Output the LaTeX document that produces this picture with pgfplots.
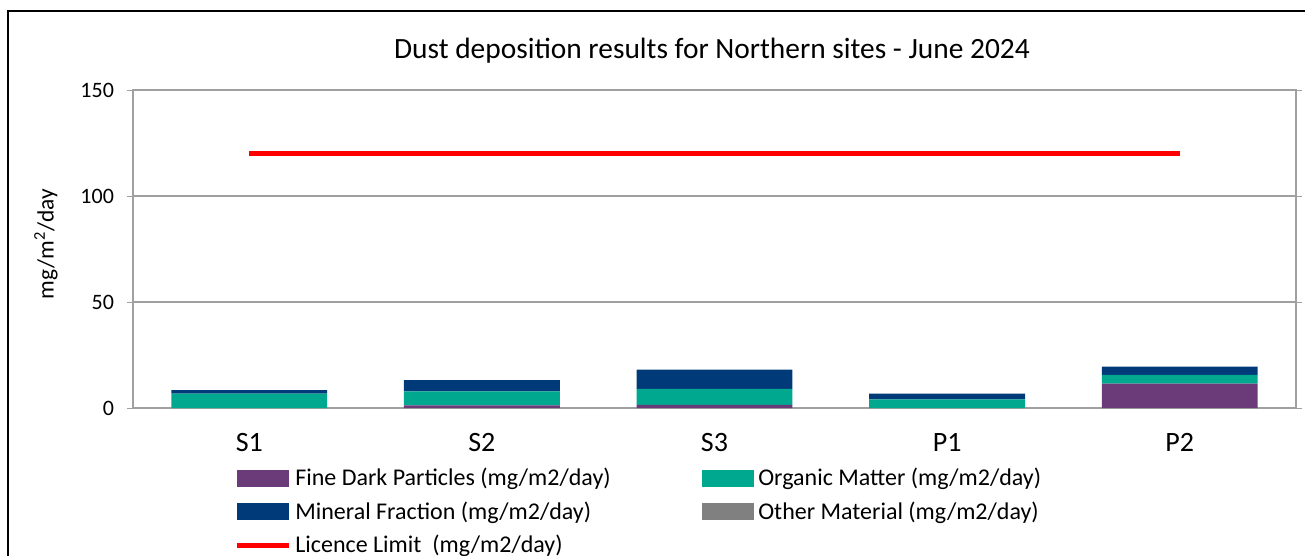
\documentclass[border=0pt]{standalone}
\usepackage{pgfplots}
\pgfplotsset{compat=1.18}
\usepackage{fontspec}
\setmainfont{Carlito}
\definecolor{finec}{HTML}{6B3A78}
\definecolor{orgc}{HTML}{00A890}
\definecolor{minc}{HTML}{003A78}
\definecolor{othc}{HTML}{808080}
\definecolor{gridc}{HTML}{A0A0A0}
\begin{document}
\begin{tikzpicture}
\path[use as bounding box] (0,0) rectangle (652.5pt,-278pt);
\draw[black, line width=0.8pt] (4pt,-280pt) -- (4pt,-5.5pt) -- (660pt,-5.5pt);
\node[font=\fontsize{14.7}{17}\selectfont] at (356pt,-25.5pt) {Dust deposition results for Northern sites - June 2024};
\node[font=\fontsize{11.7}{14}\selectfont, rotate=90] at (23pt,-122pt) {mg/m\textsuperscript{2}/day};
\begin{axis}[
  at={(66.5pt,-204pt)}, anchor=south west,
  scale only axis, width=581.5pt, height=159pt,
  ybar stacked, bar width=0.67,
  xmin=-0.5, xmax=4.5, ymin=0, ymax=150,
  xtick={0,1,2,3,4}, xticklabels={S1,S2,S3,P1,P2},
  ytick={0,50,100,150},
  ymajorgrids, grid style={gridc, line width=0.6pt},
  axis line style={gridc, line width=0.8pt},
  tick align=outside, major tick length=3pt,
  xtick style={draw=none}, ytick style={gridc},
  /pgf/number format/assume math mode=true,
  font=\fontsize{11}{13}\selectfont,
  xticklabel style={font=\fontsize{14}{16}\selectfont, yshift=-6pt},
  yticklabel style={xshift=-3pt},
  legend columns=2,
  legend cell align=left,
  legend style={draw=none, fill=none, at={(axis description cs:0.0868,-0.174)}, anchor=north west,
    inner sep=0pt, row sep=2.6pt, font=\fontsize{12}{14}\selectfont,
    /tikz/every odd column/.append style={column sep=0pt}},
  legend image code/.code={\fill[#1] (0pt,-4.25pt) rectangle (26pt,4.25pt);},
]
\addplot[fill=finec, draw=none] coordinates {(0,0) (1,1.2) (2,1.5) (3,0) (4,11.5)};
\addlegendentry{\makebox[201.5pt][l]{Fine Dark Particles (mg/m2/day)}}
\addplot[fill=orgc, draw=none] coordinates {(0,6.8) (1,6.6) (2,7.5) (3,4.1) (4,4.1)};
\addlegendentry{Organic Matter (mg/m2/day)}
\addplot[fill=minc, draw=none] coordinates {(0,1.6) (1,5.3) (2,9.1) (3,2.7) (4,3.9)};
\addlegendentry{\makebox[201.5pt][l]{Mineral Fraction (mg/m2/day)}}
\addplot[fill=othc, draw=none] coordinates {(0,0) (1,0) (2,0) (3,0) (4,0)};
\addlegendentry{Other Material (mg/m2/day)}
\addlegendimage{legend image code/.code={\draw[red, line width=2.5pt] (0pt,0pt) -- (26pt,0pt);}}
\addlegendentry{Licence Limit\ \ (mg/m2/day)}
\end{axis}
\begin{axis}[
  at={(66.5pt,-204pt)}, anchor=south west,
  scale only axis, width=581.5pt, height=159pt,
  xmin=-0.5, xmax=4.5, ymin=0, ymax=150, hide axis,
]
\addplot[red, line width=2.5pt] coordinates {(0,120) (4,120)};
\end{axis}
\end{tikzpicture}
\end{document}
